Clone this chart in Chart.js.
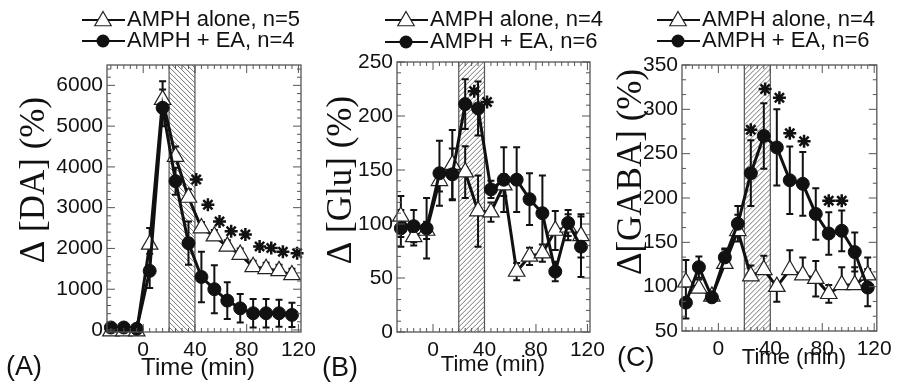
<!DOCTYPE html>
<html lang="en">
<head>
<meta charset="UTF-8">
<title>AMPH microdialysis: DA, Glu, GABA</title>
<script src="https://cdn.jsdelivr.net/npm/chart.js@4.4.1/dist/chart.umd.min.js"></script>
<style>
  html, body { margin: 0; padding: 0; background: #fff; }
  #wrap { position: relative; width: 898px; height: 390px; }
  #wrap canvas { position: absolute; left: 0; top: 0; }
</style>
</head>
<body>
<div id="wrap">
  <canvas id="chartA" width="898" height="390"></canvas>
  <canvas id="chartB" width="898" height="390"></canvas>
  <canvas id="chartC" width="898" height="390"></canvas>
</div>
<script>
// sample times (min), same in all three panels
var times = [-25, -15, -5, 5, 15, 25, 35, 45, 55, 65, 75, 85, 95, 105, 115];
var xTicks = [0, 40, 80, 120];
var infusion = [20, 40];

// (A) dopamine
var daAlone       = [-30, -30, -30, 2100, 5650, 4250, 3250, 2500, 2300, 2050, 1850, 1550, 1500, 1450, 1350];
var daAloneErr    = [40, 40, 40, 400, 450, 250, 200, 150, 150, 150, 150, 150, 150, 150, 150];
var daAloneErrLow = [0, 0, 0, 0, 0, 0, 0, 0, 0, 0, 0, 0, 0, 0, 0];
var daEA          = [60, 60, 30, 1450, 5450, 3650, 2130, 1300, 1000, 720, 530, 410, 410, 410, 370];
var daEAErr       = [50, 50, 50, 420, 450, 330, 530, 620, 590, 450, 350, 350, 350, 330, 300];
var daStarX       = [41, 50, 59, 68, 79, 90, 99, 108, 119];
var daStarY       = [3690, 3070, 2660, 2420, 2340, 2050, 2010, 1920, 1880];
var daTicks       = [0, 1000, 2000, 3000, 4000, 5000, 6000];

// (B) glutamate
var gluAlone    = [107, 88, 94, 140, 155, 148, 112, 111, 136, 56, 70, 73, 94, 97, 89];
var gluAloneErr = [19, 8, 8, 10, 32, 24, 33, 9, 10, 8, 8, 8, 18, 12, 20];
var gluEA       = [96, 98, 96, 147, 146, 211, 207, 132, 141, 141, 123, 110, 56, 101, 79];
var gluEAErr    = [17, 15, 28, 30, 24, 23, 25, 8, 30, 30, 24, 35, 9, 12, 28];
var gluStarX    = [32, 42];
var gluStarY    = [223, 213];
var gluTicks    = [0, 50, 100, 150, 200, 250];

// (C) GABA
var gabaAlone       = [105, 98, 89, 126, 163, 112, 119, 100, 119, 113, 109, 92, 102, 102, 113];
var gabaAloneErr    = [25, 10, 5, 16, 18, 12, 16, 0, 22, 20, 20, 10, 20, 20, 20];
var gabaAloneErrLow = [0, 0, 0, 0, 0, 0, 0, 17, 0, 0, 20, 10, 0, 0, 0];
var gabaEA          = [82, 122, 88, 133, 171, 228, 270, 257, 220, 216, 182, 160, 163, 139, 99];
var gabaEAErr       = [18, 12, 5, 10, 20, 37, 37, 43, 38, 36, 29, 24, 23, 22, 21];
var gabaStarX       = [25, 36, 47, 55, 66, 85, 95];
var gabaStarY       = [277, 323, 313, 273, 264, 197, 197];
var gabaTicks       = [50, 100, 150, 200, 250, 300, 350];

var SANS = "'Liberation Sans', Arial, sans-serif";
var SERIF = "'Liberation Serif', 'Times New Roman', serif";

Chart.defaults.font.family = SANS;
Chart.defaults.font.size = 21;

function pts(xs, ys) {
  return xs.map(function (x, i) { return { x: x, y: ys[i] }; });
}

function hasTick(list, v) {
  return list.some(function (t) { return Math.abs(t - v) < 1e-6; });
}

function triangle(ctx, x, y, r) {
  ctx.beginPath();
  ctx.moveTo(x, y - r);
  ctx.lineTo(x + r * 0.866, y + r * 0.5);
  ctx.lineTo(x - r * 0.866, y + r * 0.5);
  ctx.closePath();
}

// hatch, error bars, box with inner ticks, titles and legend
var panelDecor = {
  id: 'panelDecor',
  beforeDatasetsDraw: function (chart, args, o) {
    var ctx = chart.ctx, a = chart.chartArea;
    var xs = chart.scales.x, ys = chart.scales.y;
    var x0 = xs.getPixelForValue(o.hatch[0]), x1 = xs.getPixelForValue(o.hatch[1]);
    var h = a.bottom - a.top;
    ctx.save();
    ctx.beginPath();
    ctx.rect(x0, a.top, x1 - x0, h);
    ctx.clip();
    ctx.strokeStyle = '#777';
    ctx.lineWidth = 1;
    ctx.beginPath();
    for (var s = x0 - h; s < x1 + h; s += 5) {
      if (o.hatchDir > 0) { ctx.moveTo(s, a.bottom); ctx.lineTo(s + h, a.top); }
      else { ctx.moveTo(s, a.top); ctx.lineTo(s + h, a.bottom); }
    }
    ctx.stroke();
    ctx.restore();
    ctx.save();
    ctx.strokeStyle = '#555';
    ctx.lineWidth = 1.2;
    ctx.beginPath();
    ctx.moveTo(x0, a.top); ctx.lineTo(x0, a.bottom);
    ctx.moveTo(x1, a.top); ctx.lineTo(x1, a.bottom);
    ctx.stroke();

    // error bars (SEM), up and down parts can differ
    ctx.strokeStyle = '#111';
    ctx.lineWidth = 2;
    chart.data.datasets.forEach(function (ds) {
      if (!ds.errors) return;
      ds.data.forEach(function (p, j) {
        var eu = ds.errors[j];
        var ed = ds.errorsLow ? ds.errorsLow[j] : eu;
        var px = xs.getPixelForValue(p.x);
        var yt = ys.getPixelForValue(p.y + eu), yb = ys.getPixelForValue(p.y - ed);
        ctx.beginPath();
        ctx.moveTo(px, yt); ctx.lineTo(px, yb);
        if (eu > 0) { ctx.moveTo(px - 3.5, yt); ctx.lineTo(px + 3.5, yt); }
        if (ed > 0) { ctx.moveTo(px - 3.5, yb); ctx.lineTo(px + 3.5, yb); }
        ctx.stroke();
      });
    });
    ctx.restore();
  },
  afterDraw: function (chart, args, o) {
    var ctx = chart.ctx, a = chart.chartArea;
    var xs = chart.scales.x, ys = chart.scales.y;
    ctx.save();
    ctx.strokeStyle = '#555';
    ctx.lineWidth = 1.3;
    ctx.strokeRect(a.left, a.top, a.right - a.left, a.bottom - a.top);

    // inner ticks on all four sides
    ctx.lineWidth = 1;
    ctx.beginPath();
    var k, v, p, len;
    var xStart = Math.ceil(xs.min / o.xMinor) * o.xMinor;
    for (k = 0; (v = xStart + k * o.xMinor) <= xs.max; k++) {
      p = xs.getPixelForValue(v);
      len = hasTick(xTicks, v) ? 8 : 4;
      ctx.moveTo(p, a.bottom); ctx.lineTo(p, a.bottom - len);
      ctx.moveTo(p, a.top); ctx.lineTo(p, a.top + len);
    }
    var yStart = Math.ceil(ys.min / o.yMinor - 1e-6) * o.yMinor;
    for (k = 0; (v = yStart + k * o.yMinor) <= ys.max + 1e-6; k++) {
      p = ys.getPixelForValue(v);
      len = hasTick(o.yTicks, v) ? 8 : 4;
      ctx.moveTo(a.left, p); ctx.lineTo(a.left + len, p);
      ctx.moveTo(a.right, p); ctx.lineTo(a.right - len, p);
    }
    ctx.stroke();

    // titles and panel letter
    ctx.fillStyle = '#111';
    ctx.textBaseline = 'middle';
    ctx.textAlign = 'center';
    ctx.font = o.xTitleSize + 'px ' + SANS;
    ctx.fillText('Time (min)', o.xTitle[0], o.xTitle[1]);
    ctx.textAlign = 'left';
    ctx.font = '27px ' + SANS;
    ctx.fillText(o.letter, o.letterPos[0], o.letterPos[1]);
    ctx.save();
    ctx.translate(o.yTitlePos[0], o.yTitlePos[1]);
    ctx.rotate(-Math.PI / 2);
    ctx.textAlign = 'center';
    ctx.font = o.yTitleSize + 'px ' + SERIF;
    ctx.fillText(o.yTitle, 0, 0);
    ctx.restore();

    // legend: line with marker, then label
    var lg = o.legend;
    ctx.font = '22px ' + SANS;
    ctx.textAlign = 'left';
    [[1, lg.y1], [0, lg.y2]].forEach(function (row) {
      var ds = chart.data.datasets[row[0]], y = row[1];
      var lx = lg.x, cx = lg.x + 21;
      ctx.strokeStyle = '#111';
      ctx.lineWidth = 2;
      ctx.beginPath();
      ctx.moveTo(lx, y); ctx.lineTo(lx + 43, y);
      ctx.stroke();
      if (ds.pointStyle === 'triangle') {
        triangle(ctx, cx, y + 1, 9.5);
        ctx.fillStyle = '#fff';
        ctx.fill();
        ctx.lineWidth = 1.2;
        ctx.strokeStyle = '#222';
        ctx.stroke();
      } else {
        ctx.beginPath();
        ctx.arc(cx, y, 6.5, 0, Math.PI * 2);
        ctx.fillStyle = '#111';
        ctx.fill();
      }
      ctx.fillStyle = '#111';
      ctx.fillText(ds.label, lx + 45, y);
    });
    ctx.restore();
  }
};

function makeChart(id, cfg) {
  var tickFont = { family: SANS, size: 21 };
  return new Chart(document.getElementById(id), {
    type: 'line',
    data: {
      datasets: [{
        label: cfg.eaLabel,
        data: pts(times, cfg.ea),
        errors: cfg.eaErr,
        borderColor: '#111',
        borderWidth: 3,
        pointStyle: 'circle',
        pointRadius: 6.5,
        pointBackgroundColor: '#111',
        pointBorderColor: '#111',
        pointBorderWidth: 1,
        clip: false
      }, {
        label: cfg.aloneLabel,
        data: pts(times, cfg.alone),
        errors: cfg.aloneErr,
        errorsLow: cfg.aloneErrLow,
        borderColor: '#111',
        borderWidth: 3,
        pointStyle: 'triangle',
        pointRadius: 9.5,
        pointBackgroundColor: '#fff',
        pointBorderColor: '#222',
        pointBorderWidth: 1.2,
        clip: false
      }, {
        label: 'p < 0.05',
        data: pts(cfg.starX, cfg.starY),
        showLine: false,
        pointStyle: 'star',
        pointRadius: 6.5,
        pointBorderWidth: 2.5,
        pointBorderColor: '#111',
        pointBackgroundColor: '#111',
        clip: false
      }]
    },
    options: {
      responsive: false,
      animation: false,
      events: [],
      layout: { padding: cfg.padding },
      plugins: {
        legend: { display: false },
        tooltip: { enabled: false },
        panelDecor: cfg.decor
      },
      scales: {
        x: {
          type: 'linear',
          min: -28,
          max: 122,
          afterBuildTicks: function (s) { s.ticks = xTicks.map(function (v) { return { value: v }; }); },
          afterFit: function (s) { s.height = 40; },
          grid: { display: false, drawTicks: false },
          border: { display: false },
          ticks: { font: tickFont, color: '#111', padding: 6, maxRotation: 0, autoSkip: false,
                   callback: function (v) { return String(v); } }
        },
        y: {
          type: 'linear',
          min: cfg.yMin,
          max: cfg.yMax,
          afterBuildTicks: function (s) { s.ticks = cfg.yTicks.map(function (v) { return { value: v }; }); },
          afterFit: function (s) { s.width = 60; },
          grid: { display: false, drawTicks: false },
          border: { display: false },
          ticks: { font: tickFont, color: '#111', padding: 4, autoSkip: false,
                   callback: function (v) { return String(v); } }
        }
      }
    },
    plugins: [panelDecor]
  });
}

makeChart('chartA', {
  alone: daAlone, aloneErr: daAloneErr, aloneErrLow: daAloneErrLow, ea: daEA, eaErr: daEAErr,
  starX: daStarX, starY: daStarY, yTicks: daTicks, yMin: -50, yMax: 6500,
  aloneLabel: 'AMPH alone, n=5', eaLabel: 'AMPH + EA, n=4',
  padding: { left: 47, right: 597, top: 65, bottom: 18 },
  decor: { hatch: infusion, hatchDir: -1, xMinor: 5, yMinor: 200, yTicks: daTicks,
           yTitle: '\u0394 [DA] (%)', yTitlePos: [35, 180], yTitleSize: 35,
           xTitle: [198, 368], xTitleSize: 24, letter: '(A)', letterPos: [6, 368],
           legend: { x: 82, y1: 20, y2: 41 } }
});

makeChart('chartB', {
  alone: gluAlone, aloneErr: gluAloneErr, ea: gluEA, eaErr: gluEAErr,
  starX: gluStarX, starY: gluStarY, yTicks: gluTicks, yMin: 0, yMax: 250,
  aloneLabel: 'AMPH alone, n=4', eaLabel: 'AMPH + EA, n=6',
  padding: { left: 337, right: 308, top: 62, bottom: 18 },
  decor: { hatch: infusion, hatchDir: 1, xMinor: 5, yMinor: 10, yTicks: gluTicks,
           yTitle: '\u0394 [Glu] (%)', yTitlePos: [342, 180], yTitleSize: 35,
           xTitle: [493, 365], xTitleSize: 22, letter: '(B)', letterPos: [322, 369],
           legend: { x: 385, y1: 20, y2: 42 } }
});

makeChart('chartC', {
  alone: gabaAlone, aloneErr: gabaAloneErr, aloneErrLow: gabaAloneErrLow, ea: gabaEA, eaErr: gabaEAErr,
  starX: gabaStarX, starY: gabaStarY, yTicks: gabaTicks, yMin: 50, yMax: 350,
  aloneLabel: 'AMPH alone, n=4', eaLabel: 'AMPH + EA, n=6',
  padding: { left: 622, right: 20, top: 65, bottom: 19 },
  decor: { hatch: infusion, hatchDir: 1, xMinor: 5, yMinor: 50 / 3, yTicks: gabaTicks,
           yTitle: '\u0394[GABA] (%)', yTitlePos: [632, 172], yTitleSize: 35,
           xTitle: [794, 358], xTitleSize: 22, letter: '(C)', letterPos: [617, 359],
           legend: { x: 657, y1: 20, y2: 41 } }
});
</script>
</body>
</html>
